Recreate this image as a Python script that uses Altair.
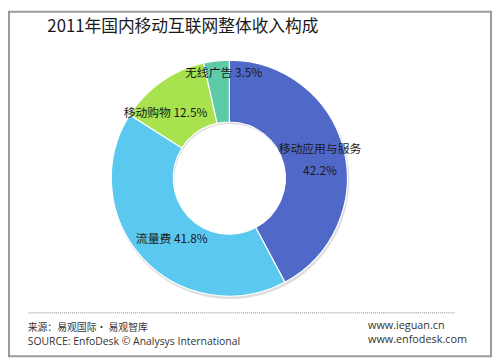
import altair as alt
import pandas as pd

categories = ["移动应用与服务", "流量费", "移动购物", "无线广告"]
shares = [42.2, 41.8, 12.5, 3.5]
colors = ["#5068C8", "#5BC8F0", "#A8E24E", "#5DCAA8"]

title_text = "2011年国内移动互联网整体收入构成"
footer_left = ["来源：易观国际· 易观智库", "SOURCE: EnfoDesk © Analysys International"]
footer_right = ["www.ieguan.cn", "www.enfodesk.com"]

W, H = 492, 352
CX, CY = 225, 170

df = pd.DataFrame({
    "cat": categories,
    "share": shares,
    "order": list(range(len(categories))),
})
df["pct"] = df["share"].map(lambda v: f"{v:.1f}%")

base = alt.Chart(df)

color_scale = alt.Scale(domain=categories, range=colors)

shadow = base.mark_arc(innerRadius=57, outerRadius=121, color="#c8c8c8", opacity=0.6).encode(
    theta=alt.Theta("share:Q", stack=True),
    order=alt.Order("order:Q"),
    x=alt.value(CX + 1), y=alt.value(CY + 2),
)

arcs = base.mark_arc(innerRadius=57, outerRadius=120, stroke="white", strokeWidth=1.2).encode(
    theta=alt.Theta("share:Q", stack=True),
    order=alt.Order("order:Q"),
    color=alt.Color("cat:N", scale=color_scale, legend=None),
    x=alt.value(CX), y=alt.value(CY),
)

# label placement (style only, per slice)
label_style = {
    "移动应用与服务": dict(radius=96, dx=-1, dy=-6, sep="|"),
    "流量费": dict(radius=88, dx=6, dy=2, sep="  "),
    "移动购物": dict(radius=92, dx=-12, dy=9, sep="   "),
    "无线广告": dict(radius=108, dx=6, dy=1, sep="  "),
}

label_layers = []
for cat in categories:
    st = label_style[cat]
    lay = base.transform_calculate(
        lab=f"datum.cat + '{st['sep']}' + datum.pct"
    ).transform_calculate(
        lab2="split(datum.lab, '|')"
    ).mark_text(
        radius=st["radius"], dx=st["dx"], dy=st["dy"], fontSize=12,
        font="Noto Sans CJK SC", color="#1a1a1a", lineHeight=22,
    ).encode(
        theta=alt.Theta("share:Q", stack=True),
        order=alt.Order("order:Q"),
        text=alt.Text("lab2:N"),
        opacity=alt.condition(alt.datum.cat == cat, alt.value(1), alt.value(0)),
        x=alt.value(CX), y=alt.value(CY),
    )
    label_layers.append(lay)

one = alt.Chart(pd.DataFrame({"k": [0]}))

frame = one.mark_rect(fill=None, stroke="#9a9a9a", strokeWidth=2).encode(
    x=alt.value(1), x2=alt.value(W - 1), y=alt.value(1), y2=alt.value(H - 1)
)

title = one.mark_text(align="left", baseline="alphabetic", fontSize=17,
                      font="Noto Sans CJK SC", color="#1a1a1a").encode(
    x=alt.value(40), y=alt.value(21), text=alt.value(title_text)
)

dotted = one.mark_rule(color="#888888", strokeDash=[1, 1], strokeWidth=1).encode(
    x=alt.value(21), x2=alt.value(455), y=alt.value(307)
)

foot_l1 = one.mark_text(align="left", fontSize=10, font="Noto Sans CJK SC", color="#333333").encode(
    x=alt.value(20), y=alt.value(322), text=alt.value(footer_left[0]))
foot_l2 = one.mark_text(align="left", fontSize=10.6, font="Open Sans", color="#333333").encode(
    x=alt.value(20), y=alt.value(337), text=alt.value(footer_left[1]))
foot_r1 = one.mark_text(align="left", fontSize=11, font="Open Sans", color="#333333").encode(
    x=alt.value(366), y=alt.value(320), text=alt.value(footer_right[0]))
foot_r2 = one.mark_text(align="left", fontSize=11, font="Open Sans", color="#333333").encode(
    x=alt.value(366), y=alt.value(335), text=alt.value(footer_right[1]))

chart = alt.layer(
    frame, title, shadow, arcs, *label_layers, dotted, foot_l1, foot_l2, foot_r1, foot_r2
).properties(
    width=W, height=H, padding=0, autosize=alt.AutoSizeParams(type="none"),
    background="white",
).configure_view(stroke=None)

chart.save("out.html", embed_options={"renderer": "svg", "actions": False})
